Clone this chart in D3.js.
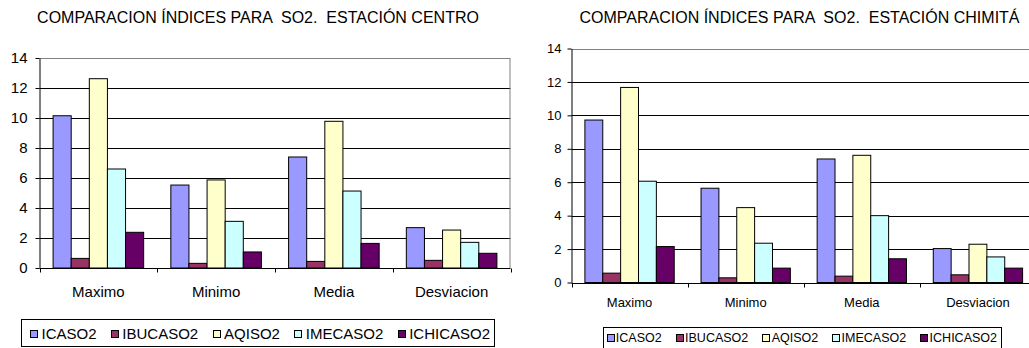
<!DOCTYPE html>
<html>
<head>
<meta charset="utf-8">
<script src="https://cdn.jsdelivr.net/npm/d3@7"></script>
<style>
  body { margin: 0; background: #fff; }
  svg { display: block; font-family: "Liberation Sans", Arial, sans-serif; }
  text { white-space: pre; }
</style>
</head>
<body>
<div id="chart"></div>
<script>
const categories = ['Maximo', 'Minimo', 'Media', 'Desviacion'];
const seriesNames = ['ICASO2', 'IBUCASO2', 'AQISO2', 'IMECASO2', 'ICHICASO2'];
const seriesColors = ['#9999ff', '#993366', '#ffffcc', '#ccffff', '#660066'];
const yTicks = [0, 2, 4, 6, 8, 10, 12, 14];

// values per series, in category order
const centroICASO2 = [10.15, 5.53, 7.4, 2.69];
const centroIBUCASO2 = [0.64, 0.31, 0.44, 0.51];
const centroAQISO2 = [12.62, 5.87, 9.78, 2.53];
const centroIMECASO2 = [6.6, 3.11, 5.13, 1.71];
const centroICHICASO2 = [2.38, 1.07, 1.64, 0.98];

const chimitaICASO2 = [9.72, 5.64, 7.39, 2.03];
const chimitaIBUCASO2 = [0.56, 0.28, 0.38, 0.46];
const chimitaAQISO2 = [11.67, 4.48, 7.61, 2.29];
const chimitaIMECASO2 = [6.06, 2.35, 4.0, 1.53];
const chimitaICHICASO2 = [2.15, 0.86, 1.42, 0.86];

const charts = [
  {
    title: 'COMPARACION ÍNDICES PARA  SO2.  ESTACIÓN CENTRO',
    values: [centroICASO2, centroIBUCASO2, centroAQISO2, centroIMECASO2, centroICHICASO2],
    titleX: 258, titleY: 23, titleSize: 16,
    left: 39.5, right: 510.5, top: 58, bottom: 268,
    fontSize: 15, tickPad: 8, catY: 296.5,
    legend: { x: 21.5, y: 319.5, w: 473, h: 27, size: 15, start: 30, end: 490, base: 338.5, sq: 7, off: 11.5 }
  },
  {
    title: 'COMPARACION ÍNDICES PARA  SO2.  ESTACIÓN CHIMITÁ',
    values: [chimitaICASO2, chimitaIBUCASO2, chimitaAQISO2, chimitaIMECASO2, chimitaICHICASO2],
    titleX: 799.5, titleY: 23, titleSize: 16,
    left: 571.5, right: 1036, top: 48.5, bottom: 282.5,
    fontSize: 13, tickPad: 6, catY: 306.5,
    legend: { x: 603.5, y: 327.5, w: 398, h: 30, size: 12.5, start: 606.5, end: 997, base: 342.3, sq: 7, off: 9.3 }
  }
];

const svg = d3.select('#chart')
  .append('svg')
  .attr('width', 1029)
  .attr('height', 348);

function drawChart(cfg) {
  const g = svg.append('g');

  const x = d3.scaleBand()
    .domain(categories)
    .range([cfg.left, cfg.right]);
  const inner = d3.scaleBand()
    .domain(seriesNames)
    .range([0, x.bandwidth()])
    .paddingOuter(0.75);
  const y = d3.scaleLinear()
    .domain([0, 14])
    .range([cfg.bottom, cfg.top]);

  // title
  g.append('text')
    .attr('x', cfg.titleX)
    .attr('y', cfg.titleY)
    .attr('text-anchor', 'middle')
    .attr('font-size', cfg.titleSize)
    .attr('fill', '#000')
    .text(cfg.title);

  // gridlines
  g.append('g')
    .selectAll('line')
    .data(yTicks.filter(d => d > 0))
    .join('line')
    .attr('x1', cfg.left)
    .attr('x2', cfg.right)
    .attr('y1', d => Math.round(y(d)) + 0.5)
    .attr('y2', d => Math.round(y(d)) + 0.5)
    .attr('stroke', d => d === 14 ? '#808080' : '#000')
    .attr('stroke-width', 1);

  // right border of plot area
  g.append('line')
    .attr('x1', cfg.right - 0.5).attr('x2', cfg.right - 0.5)
    .attr('y1', Math.round(y(14)) + 0.5).attr('y2', cfg.bottom)
    .attr('stroke', '#808080');

  // bars
  seriesNames.forEach((name, si) => {
    g.append('g')
      .selectAll('rect')
      .data(cfg.values[si])
      .join('rect')
      .attr('x', (d, i) => x(categories[i]) + inner(name))
      .attr('y', d => y(d))
      .attr('width', inner.bandwidth())
      .attr('height', d => y(0) - y(d))
      .attr('fill', seriesColors[si])
      .attr('stroke', '#000')
      .attr('stroke-width', 1);
  });

  // y axis
  const yAxis = g.append('g')
    .attr('transform', `translate(${cfg.left},0)`)
    .call(d3.axisLeft(y).tickValues(yTicks).tickSize(4).tickPadding(cfg.tickPad).tickSizeOuter(0));
  yAxis.selectAll('text').attr('font-size', cfg.fontSize).attr('font-family', null).attr('fill', '#000');
  yAxis.selectAll('line').attr('stroke', '#000');
  yAxis.select('.domain').attr('stroke', '#000');

  // x axis
  const xAxisG = g.append('g')
    .attr('transform', `translate(0,${Math.round(y(0)) + 0.5})`);
  xAxisG.append('line')
    .attr('x1', cfg.left).attr('x2', cfg.right)
    .attr('stroke', '#000');
  xAxisG.selectAll('line.tick')
    .data(categories.map(c => x(c)).concat([cfg.right]))
    .join('line')
    .attr('class', 'tick')
    .attr('x1', d => Math.round(d) + 0.5).attr('x2', d => Math.round(d) + 0.5)
    .attr('y1', 0).attr('y2', 4)
    .attr('stroke', '#000');

  g.append('g')
    .selectAll('text')
    .data(categories)
    .join('text')
    .attr('x', d => x(d) + x.bandwidth() / 2)
    .attr('y', cfg.catY)
    .attr('text-anchor', 'middle')
    .attr('font-size', cfg.fontSize)
    .attr('fill', '#000')
    .text(d => d);

  // legend
  const lg = cfg.legend;
  const legend = g.append('g');
  legend.append('rect')
    .attr('x', lg.x).attr('y', lg.y)
    .attr('width', lg.w).attr('height', lg.h)
    .attr('fill', '#fff')
    .attr('stroke', '#000');
  const labels = seriesNames.map(name => legend.append('text')
    .attr('y', lg.base)
    .attr('font-size', lg.size)
    .attr('fill', '#000')
    .text(name));
  const widths = labels.map(t => t.node().getComputedTextLength());
  const spacing = (lg.end - lg.start - d3.sum(widths) - lg.off * seriesNames.length) / (seriesNames.length - 1);
  const capMid = lg.base - lg.size * 0.36;
  let cx = lg.start;
  seriesNames.forEach((name, si) => {
    legend.append('rect')
      .attr('x', Math.round(cx) + 0.5)
      .attr('y', Math.round(capMid - lg.sq / 2) + 0.5)
      .attr('width', lg.sq).attr('height', lg.sq)
      .attr('fill', seriesColors[si])
      .attr('stroke', '#000');
    labels[si].attr('x', cx + lg.off);
    cx += lg.off + widths[si] + spacing;
  });
}

charts.forEach(drawChart);
</script>
</body>
</html>
